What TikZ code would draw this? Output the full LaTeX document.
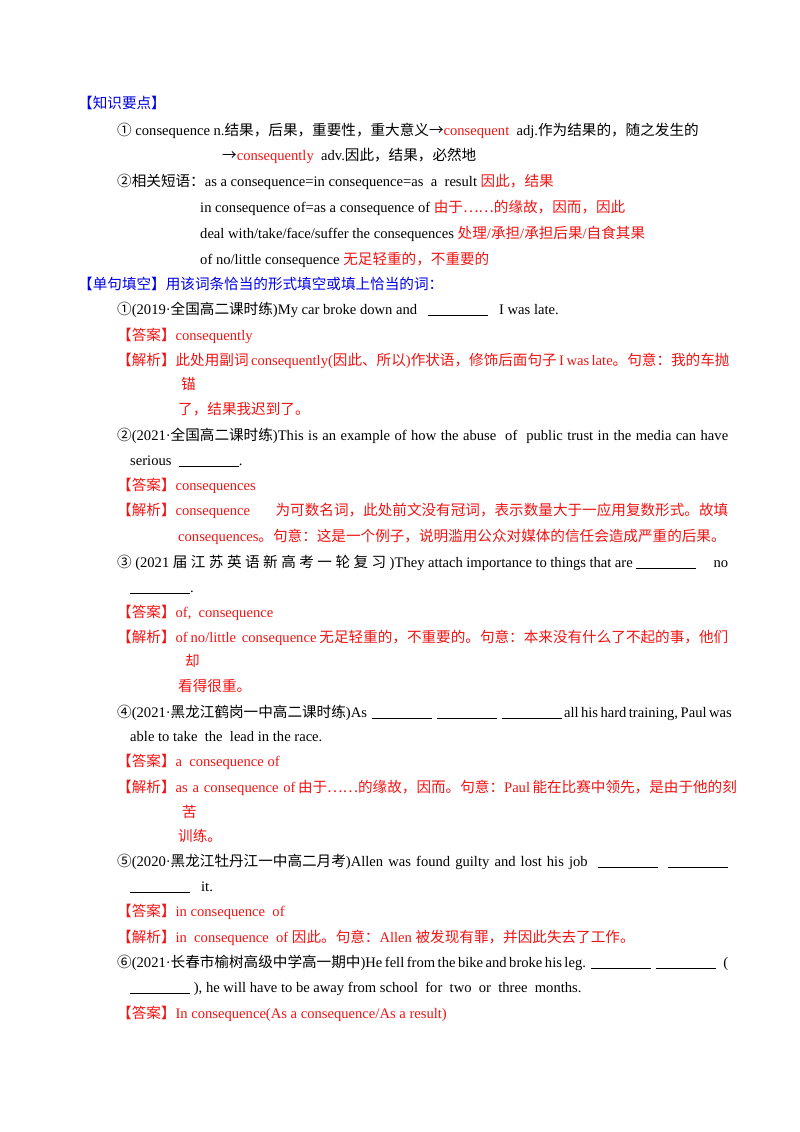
\documentclass[tikz,border=0pt]{standalone}
\usepackage{fontspec}
\setmainfont{Liberation Serif}
\newfontfamily\cjkf{Noto Sans CJK SC}
\XeTeXinterchartokenstate=1
\newXeTeXintercharclass\cjkcls
\newcount\rc
\newcommand\setrng[2]{\rc=#1 \loop\XeTeXcharclass\rc=\cjkcls\relax\ifnum\rc<#2 \advance\rc 1 \repeat}
\setrng{"4E00}{"9FFF}
\setrng{"3000}{"303F}
\setrng{"FF00}{"FFEF}
\setrng{"2460}{"2473}
\setrng{"2026}{"2026}
\setrng{"2192}{"2192}
\XeTeXinterchartoks 0 \cjkcls={\cjkf}
\XeTeXinterchartoks 4095 \cjkcls={\cjkf}
\XeTeXinterchartoks \cjkcls 0={\rmfamily}
\XeTeXinterchartoks \cjkcls 4095={\rmfamily}
\definecolor{hblue}{RGB}{0,0,230}
\definecolor{ared}{RGB}{240,20,20}
\newcounter{tn}
\tikzset{txt/.style={anchor=base west,inner sep=0pt,font=\fontsize{14.6}{16}\selectfont}}
\newcommand\T[3]{\stepcounter{tn}\node[txt] (t\arabic{tn}) at (#1,#2) {#3};}
\newcommand\J[3]{\stepcounter{tn}\node[txt] (t\arabic{tn}) at (#1,#2) {\makebox[\dimexpr 728pt-#1pt\relax][s]{#3}};}
\newcommand\bl{\underline{\hspace{60pt}}}
\begin{document}
\begin{tikzpicture}[x=1pt,y=-1pt]
\useasboundingbox[fill=white] (0,0) rectangle (800,1132);
\T{78}{108}{\color{hblue}【知识要点】}
\T{117}{135}{① consequence n.结果，后果，重要性，重大意义→{\color{ared}consequent}\ \ adj.作为结果的，随之发生的}
\T{222}{160}{→{\color{ared}consequently}\ \ adv.因此，结果，必然地}
\T{117}{186}{②相关短语：as a consequence=in consequence=as\ \ a\ \ result {\color{ared}因此，结果}}
\T{200}{212}{in consequence of=as a consequence of {\color{ared}由于……的缘故，因而，因此}}
\T{200}{238}{deal with/take/face/suffer the consequences {\color{ared}处理/承担/承担后果/自食其果}}
\T{200}{264}{of no/little consequence {\color{ared}无足轻重的，不重要的}}
\T{78}{289}{\color{hblue}【单句填空】用该词条恰当的形式填空或填上恰当的词：}
\T{117}{314}{①(2019·全国高二课时练)My car broke down and\ \ \ \bl\ \ \ I was late.}
\T{117}{340}{\color{ared}【答案】consequently}
\J{117}{365}{\color{ared}【解析】此处用副词 consequently(因此、所以)作状语，修饰后面句子 I was late。句意：我的车抛}
\T{181}{389}{\color{ared}锚}
\T{178}{414}{\color{ared}了，结果我迟到了。}
\J{117}{440}{②(2021·全国高二课时练)This is an example of how the abuse\ \ of\ \ public trust in the media can have}
\T{130}{465}{serious\ \ \bl.}
\T{117}{490}{\color{ared}【答案】consequences}
\J{117}{515}{\color{ared}【解析】consequence 为可数名词，此处前文没有冠词，表示数量大于一应用复数形式。故填}
\T{178}{541}{\color{ared}consequences。句意：这是一个例子，说明滥用公众对媒体的信任会造成严重的后果。}
\J{117}{567}{③ (2021 届 江 苏 英 语 新 高 考 一 轮 复 习 )They attach importance to things that are \bl\ \ \ \ \ no}
\T{130}{592}{\bl.}
\T{117}{617}{\color{ared}【答案】of,\ \ consequence}
\J{117}{642}{\color{ared}【解析】of no/little\ \ consequence 无足轻重的，不重要的。句意：本来没有什么了不起的事，他们}
\T{185}{666}{\color{ared}却}
\T{178}{691}{\color{ared}看得很重。}
\J{117}{717}{④(2021·黑龙江鹤岗一中高二课时练)As\ \ \bl\ \ \bl\ \ \bl\ all his hard training, Paul was}
\T{130}{741}{able to take\ \ the\ \ lead in the race.}
\T{117}{766}{\color{ared}【答案】a\ \ consequence of}
\J{117}{792}{\color{ared}【解析】as\ \ a\ \ consequence\ \ of 由于……的缘故，因而。句意：Paul 能在比赛中领先，是由于他的刻}
\T{182}{817}{\color{ared}苦}
\T{178}{841}{\color{ared}训练。}
\J{117}{866}{⑤(2020·黑龙江牡丹江一中高二月考)Allen was found guilty and lost his job\ \ \bl\ \ \bl}
\T{130}{891}{\bl\ \ \ it.}
\T{117}{916}{\color{ared}【答案】in consequence\ \ of}
\T{117}{942}{\color{ared}【解析】in\ \ consequence\ \ of 因此。句意：Allen 被发现有罪，并因此失去了工作。}
\J{117}{967}{⑥(2021·长春市榆树高级中学高一期中)He fell from the bike and broke his leg.\ \ \bl\ \ \bl\ \ \ (}
\T{130}{992}{\bl\ ), he will have to be away from school\ \ for\ \ two\ \ or\ \ three\ \ months.}
\T{117}{1018}{\color{ared}【答案】In consequence(As a consequence/As a result)}
\end{tikzpicture}
\end{document}
